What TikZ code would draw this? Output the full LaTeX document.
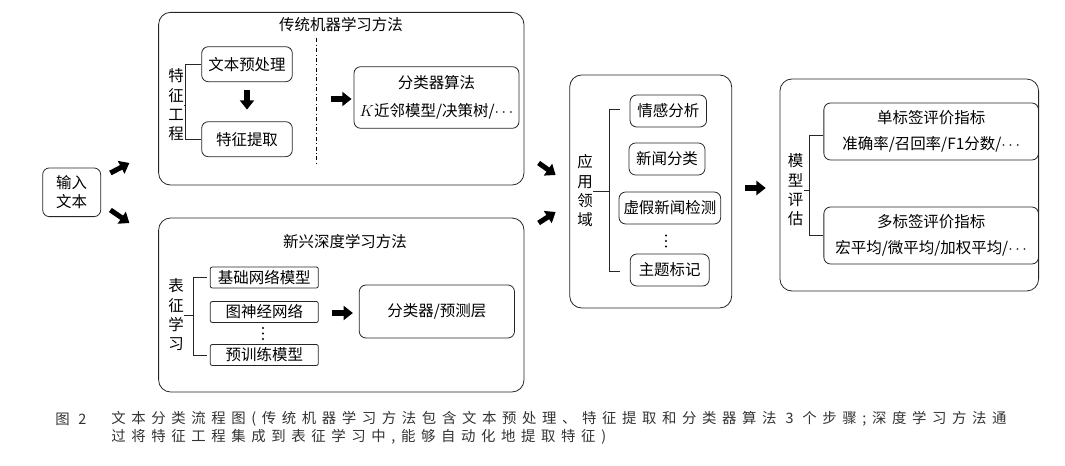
\documentclass[tikz,border=0pt]{standalone}
\usepackage{fontspec}
\setmainfont{Noto Sans CJK SC}
\newfontfamily\capfont[LetterSpace=39]{Noto Sans CJK SC}
\usetikzlibrary{arrows.meta}

\tikzset{
  outer/.style={draw=black!85, line width=0.6pt, rounded corners=9pt, inner sep=0pt},
  item/.style={draw=black!85, line width=0.6pt, rounded corners=5pt, inner sep=0pt, minimum height=24pt},
  plain/.style={draw=black!85, line width=0.6pt, rounded corners=1.5pt, inner sep=0pt, minimum width=81pt, minimum height=15.75pt},
  fat/.style={line width=3.8pt, -{Triangle[length=7pt,width=10.5pt]}},
  brace/.style={draw=black!85, line width=0.6pt},
  vlabel/.style={align=center, inner sep=0pt, font=\fontsize{11.6}{14.5}\selectfont},
  caption/.style={anchor=west, inner sep=0pt, text=black!80, font=\capfont\fontsize{10.8}{12}\selectfont}
}

\begin{document}
\begin{tikzpicture}[x=0.75pt,y=-0.75pt, font=\fontsize{11.6}{14}\selectfont]
	\useasboundingbox (0,0) rectangle (1065,466);

	% input
	\node[outer, rounded corners=5pt, minimum width=43.5pt, minimum height=36.5pt, align=center] (input) at (71.7,192.3) {输入\\文本};

	% traditional methods
	\node[outer, minimum width=274pt, minimum height=129.5pt] (trad) at (341.3,98.7) {};
	\node (tradtitle) at (341,25) {传统机器学习方法};
	\node[item, minimum width=68pt, minimum height=26.25pt] (pre) at (247,64.2) {文本预处理};
	\node[item, minimum width=68pt, minimum height=26.25pt] (feat) at (247,139.2) {特征提取};
	\node[vlabel] (fe) at (176,105) {特\\征\\工\\程};
	\draw[brace] (pre.west) -- ++(-15.5,0) coordinate (b1) |- (feat.west);
	\draw[brace] (b1 |- fe.east) -- (fe.east);
	\draw[dash dot, line width=0.5pt] (316.5,38) -- (316.5,165);
	\node[item, minimum width=123.75pt, minimum height=46.2pt, align=center, font=\fontsize{11.6}{21}\selectfont] (cls) at (436.5,97.5) {分类器算法\\$K$近邻模型/决策树/$\cdots$};
	\draw[fat] ([shift={(0,8.3)}]pre.south) -- ([shift={(0,-11.7)}]feat.north);
	\draw[fat] ([shift={(-23,1.5)}]cls.west) -- ([shift={(-2,1.5)}]cls.west);

	% deep learning methods
	\node[outer, minimum width=274pt, minimum height=130.5pt] (deep) at (341.3,305) {};
	\node (deeptitle) at (345,242) {新兴深度学习方法};
	\node[plain] (base) at (264.3,277.5) {基础网络模型};
	\node[plain] (gnn) at (264.3,312) {图神经网络};
	\coordinate (dots1) at (263,333.5);
	\node[plain] (ptm) at (264.3,355) {预训练模型};
	\node[vlabel] (rl) at (176,315) {表\\征\\学\\习};
	\draw[brace] ([shift={(-3.3,0)}]base.west) -- ++(-12.9,0) coordinate (b2) |- ([shift={(-3.3,0)}]ptm.west);
	\draw[brace] (b2 |- rl.east) -- (rl.east);
	\node[item, minimum width=116.4pt, minimum height=39.75pt] (head) at (436.9,311.5) {分类器/预测层};
	\draw[fat] ([shift={(-26.5,1.5)}]head.west) -- ([shift={(-6,1.5)}]head.west);

	% input arrows
	\draw[fat] ([shift={(9.3,-19.3)}]input.east) -- ([shift={(28.3,-29.3)}]input.east);
	\draw[fat] ([shift={(9.3,17.7)}]input.east) -- ([shift={(28.3,30.7)}]input.east);

	% applications
	\node[outer, minimum width=121.5pt, minimum height=174.75pt] (app) at (650.7,191.5) {};
	\node[vlabel] (area) at (585,191) {应\\用\\领\\域};
	\node[item, minimum width=57.4pt] (emo) at (668.3,111) {情感分析};
	\node[item, minimum width=57pt] (news) at (667,159) {新闻分类};
	\node[item, minimum width=76.3pt] (fake) at (669.9,208) {虚假新闻检测};
	\coordinate (dots2) at (666,241);
	\node[item, minimum width=59.3pt] (topic) at (669.7,270) {主题标记};
	\draw[brace] ([shift={(-10,-2)}]emo.west) -- ++(-10,0) coordinate (b3) |- ([shift={(-10,1)}]topic.west);
	\draw[brace] (b3 |- area.east) -- (area.east);
	\draw[fat] ([shift={(-30.7,-28.5)}]app.west) -- ([shift={(-13.7,-16.5)}]app.west);
	\draw[fat] ([shift={(-30.7,31.5)}]app.west) -- ([shift={(-13.7,20.5)}]app.west);

	% vertical dots
	\foreach \d in {-5.5,0,5.5} {
		\fill ([shift={(0,\d)}]dots1) circle[radius=0.9pt];
		\fill ([shift={(0,\d)}]dots2) circle[radius=0.9pt];
	}

	% evaluation
	\node[outer, minimum width=194pt, minimum height=159pt] (eval) at (909.3,185) {};
	\node[vlabel] (me) at (795.5,190) {模\\型\\评\\估};
	\node[item, minimum width=161pt, minimum height=42.75pt, align=center, font=\fontsize{11.6}{19}\selectfont] (single) at (931.2,131.5) {单标签评价指标\\准确率/召回率/F1分数/$\cdots$};
	\node[item, minimum width=161pt, minimum height=42.75pt, align=center, font=\fontsize{11.6}{19}\selectfont] (multi) at (931.2,235.5) {多标签评价指标\\宏平均/微平均/加权平均/$\cdots$};
	\draw[brace] ([shift={(0,3.5)}]single.west) -- ++(-13.8,0) coordinate (b4) |- (multi.west);
	\draw[brace] (b4 |- me.east) -- (me.east);
	\draw[fat] ([shift={(-34.5,3)}]eval.west) -- ([shift={(-13.8,3)}]eval.west);

	% caption
	\node[caption] (fig) at (55,419) {图 2};
	\node[caption] (cap1) at (111,419) {文本分类流程图(传统机器学习方法包含文本预处理、特征提取和分类器算法 3 个步骤;深度学习方法通};
	\node[caption] (cap2) at (111,437) {过将特征工程集成到表征学习中,能够自动化地提取特征)};

\end{tikzpicture}
\end{document}
